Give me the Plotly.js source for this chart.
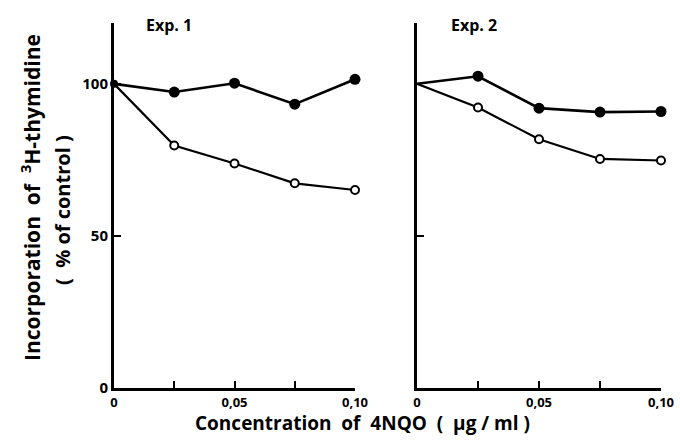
<!DOCTYPE html>
<html>
<head>
<meta charset="utf-8">
<script src="https://cdn.plot.ly/plotly-3.0.1.min.js"></script>
<style>html,body{margin:0;padding:0;background:#fff;}#chart{width:680px;height:444px;}</style>
</head>
<body>
<div id="chart"></div>
<script>
// Data (concentration of 4NQO, µg/ml) and incorporation (% of control)
const conc = [0, 0.025, 0.05, 0.075, 0.10];
const exp1Filled = [100, 97.3, 100.2, 93.3, 101.5];
const exp1Open   = [100, 79.7, 73.8, 67.3, 65.1];
const exp2Filled = [100, 102.5, 92.0, 90.7, 90.9];
const exp2Open   = [100, 92.2, 81.8, 75.3, 74.8];
const xTickVals = [0, 0.025, 0.05, 0.075, 0.10];
const xTickText = ["0", "", "0,05", "", "0,10"];
const yTickVals = [0, 50, 100];
const yTickText = ["0", "50", "100"];
const panelTitles = ["Exp. 1", "Exp. 2"];
const xTitle = "Concentration\u00A0 of\u00A0 4NQO\u00A0 (\u00A0 µg / ml )";
const yTitle1 = "Incorporation\u00A0 of\u00A0 <sup>3</sup>H-thymidine";
const yTitle2 = "(\u00A0 % of control )";

const FONT = "Open Sans, DejaVu Sans, sans-serif";
const W = 680, H = 444;
const px = v => v / W, py = v => 1 - v / H;

function filled(x, y, xa, ya, sizes) {
  return {x, y, xaxis: xa, yaxis: ya, type: 'scatter', mode: 'lines+markers', cliponaxis: false,
    line: {color: '#000', width: 2.6},
    marker: {color: '#000', opacity: 1, size: sizes, line: {color: '#000', width: 0}}};
}
function open(x, y, xa, ya, sizes) {
  return {x, y, xaxis: xa, yaxis: ya, type: 'scatter', mode: 'lines+markers', cliponaxis: false,
    line: {color: '#000', width: 2.2},
    marker: {color: '#fff', opacity: 1, size: sizes, line: {color: '#000', width: 2}}};
}
const s1 = [8, 11, 11, 11, 11];
const s0 = [0, 11, 11, 11, 11];
const so = [0, 8, 8, 8, 8];

const traces = [
  open(conc, exp1Open, 'x', 'y', so),
  filled(conc, exp1Filled, 'x', 'y', s1),
  open(conc, exp2Open, 'x2', 'y2', so),
  filled(conc, exp2Filled, 'x2', 'y2', s0)
];

const yDom = [py(388), py(23)];
const xAxisBase = {
  range: [0, 0.10], showgrid: false, zeroline: false, showline: true, linecolor: '#000', linewidth: 3,
  ticks: 'inside', ticklen: 7, tickwidth: 2, tickcolor: '#000',
  tickmode: 'array', tickvals: xTickVals, ticktext: xTickText, ticklabelstandoff: 0,
  tickfont: {family: FONT, size: 13, color: '#000', weight: 'bold'}, fixedrange: true
};
const yAxisBase = {
  range: [0, 120], domain: yDom, showgrid: false, zeroline: false, showline: true, linecolor: '#000', linewidth: 3,
  ticks: 'inside', ticklen: 7, tickwidth: 2, tickcolor: '#000',
  tickmode: 'array', tickvals: yTickVals, ticktext: yTickText,
  tickfont: {family: FONT, size: 15, color: '#000', weight: 'bold'}, fixedrange: true
};

const ann = (text, x, y, size, extra) => Object.assign({text, xref: 'paper', yref: 'paper',
  x: px(x), y: py(y), xanchor: 'center', yanchor: 'middle', showarrow: false,
  font: {family: FONT, size, color: '#000', weight: 'bold'}}, extra || {});

const layout = {
  width: W, height: H, margin: {l: 0, r: 0, t: 0, b: 0},
  paper_bgcolor: '#fff', plot_bgcolor: '#fff', showlegend: false,
  xaxis: Object.assign({}, xAxisBase, {domain: [px(114), px(355)], anchor: 'y'}),
  yaxis: Object.assign({}, yAxisBase, {anchor: 'x'}),
  xaxis2: Object.assign({}, xAxisBase, {domain: [px(417), px(661)], anchor: 'y2'}),
  yaxis2: Object.assign({}, yAxisBase, {anchor: 'x2', tickvals: [50], ticktext: [''], showticklabels: false}),
  annotations: [
    ann(panelTitles[0], 169, 25, 16),
    ann(panelTitles[1], 474, 25, 16),
    ann(xTitle, 362, 423, 19),
    ann(yTitle1, 30, 198, 21, {textangle: -90}),
    ann(yTitle2, 62, 210, 20, {textangle: -90})
  ]
};

Plotly.newPlot('chart', traces, layout, {staticPlot: true, displayModeBar: false});
</script>
</body>
</html>
